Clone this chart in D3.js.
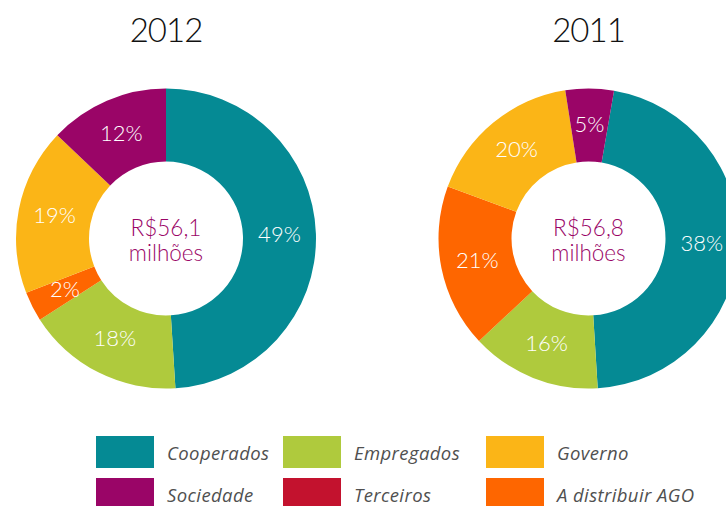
<!DOCTYPE html>
<html>
<head>
<meta charset="utf-8">
<script src="https://cdn.jsdelivr.net/npm/d3@7"></script>
<style>
  body { margin: 0; background: #fff; }
  text { font-family: Lato, "Open Sans", sans-serif; }
</style>
</head>
<body>
<div id="root"></div>
<script>
// categories, in drawing order (clockwise from the top)
var categories = ["Cooperados", "Empregados", "Terceiros", "A distribuir AGO", "Governo", "Sociedade"];
var legendOrder = ["Cooperados", "Empregados", "Governo", "Sociedade", "Terceiros", "A distribuir AGO"];
var colors = ["#058a94", "#afca3d", "#c3122e", "#fe6600", "#fbb517", "#9a0567"];

// printed percentages
var labels2012 = [49, 18, 0, 2, 19, 12];
var labels2011 = [38, 16, 0, 21, 20, 5];
// slice sizes as drawn in the picture (%)
var share2012 = [49, 16.9, 0, 3.2, 18, 12.9];
var share2011 = [46.3, 14, 0, 17.6, 16.9, 5.2];
var startAngle2011 = 9.8; // degrees, the 2011 ring starts rotated

var years = ["2012", "2011"];
var totals = ["R$56,1", "R$56,8"];

var width = 726, height = 506;
var outerR = 150, innerR = 77;

var svg = d3.select("#root")
            .append("svg")
            .attr("width", width)
            .attr("height", height);

var color = d3.scaleOrdinal().domain(categories).range(colors);

function donut(cx, cy, year, total, shares, labels, start) {
  var g = svg.append("g")
    .attr("transform", "translate(" + cx + "," + cy + ")");

  var rows = categories.map(function (c, i) {
    return {name: c, value: shares[i], label: labels[i]};
  });

  var s = start * Math.PI / 180;
  var pie = d3.pie()
    .sort(null)
    .value(function (d) { return d.value; })
    .startAngle(s)
    .endAngle(s + 2 * Math.PI);

  var arc = d3.arc().innerRadius(innerR).outerRadius(outerR);

  var arcs = pie(rows).filter(function (d) { return d.data.value > 0; });

  g.selectAll("path")
    .data(arcs)
    .enter()
    .append("path")
      .attr("d", arc)
      .style("fill", function (d) { return color(d.data.name); });

  g.selectAll(".pct")
    .data(arcs)
    .enter()
    .append("text")
      .attr("class", "pct")
      .attr("transform", function (d) { return "translate(" + arc.centroid(d) + ")"; })
      .attr("text-anchor", "middle")
      .attr("dy", "0.3em")
      .style("font-size", "22px")
      .style("font-weight", 300)
      .style("fill", "#fff")
      .text(function (d) { return d.data.label + "%"; });

  // total in the hole
  g.append("text")
    .attr("text-anchor", "middle")
    .attr("y", -3)
    .style("font-size", "22.5px")
    .style("font-weight", 300)
    .style("fill", "#9a0567")
    .text(total);
  g.append("text")
    .attr("text-anchor", "middle")
    .attr("y", 22)
    .style("font-size", "22.5px")
    .style("font-weight", 300)
    .style("fill", "#9a0567")
    .text("milhões");

  // year title
  svg.append("text")
    .attr("x", cx)
    .attr("y", 42)
    .attr("text-anchor", "middle")
    .style("font-size", "33px")
    .style("font-weight", 300)
    .style("letter-spacing", "-1px")
    .style("fill", "#111")
    .text(year);
}

donut(166, 238.5, years[0], totals[0], share2012, labels2012, 0);
donut(588.5, 238.5, years[1], totals[1], share2011, labels2011, startAngle2011);

// legend, 3 columns x 2 rows
var colX = [96, 283, 486];
var rowY = [436, 478];
var legend = svg.append("g")
  .selectAll("g")
  .data(legendOrder)
  .enter()
  .append("g")
    .attr("transform", function (d, i) {
      return "translate(" + colX[i % 3] + "," + rowY[Math.floor(i / 3)] + ")";
    });

legend.append("rect")
  .attr("width", 58)
  .attr("height", 32)
  .style("fill", function (d) { return color(d); });

legend.append("text")
  .attr("x", 71)
  .attr("y", 24)
  .style("font-family", "'Open Sans', sans-serif")
  .style("font-size", "18.5px")
  .style("letter-spacing", "0.4px")
  .style("font-style", "italic")
  .style("fill", "#505050")
  .text(function (d) { return d; });
</script>
</body>
</html>
